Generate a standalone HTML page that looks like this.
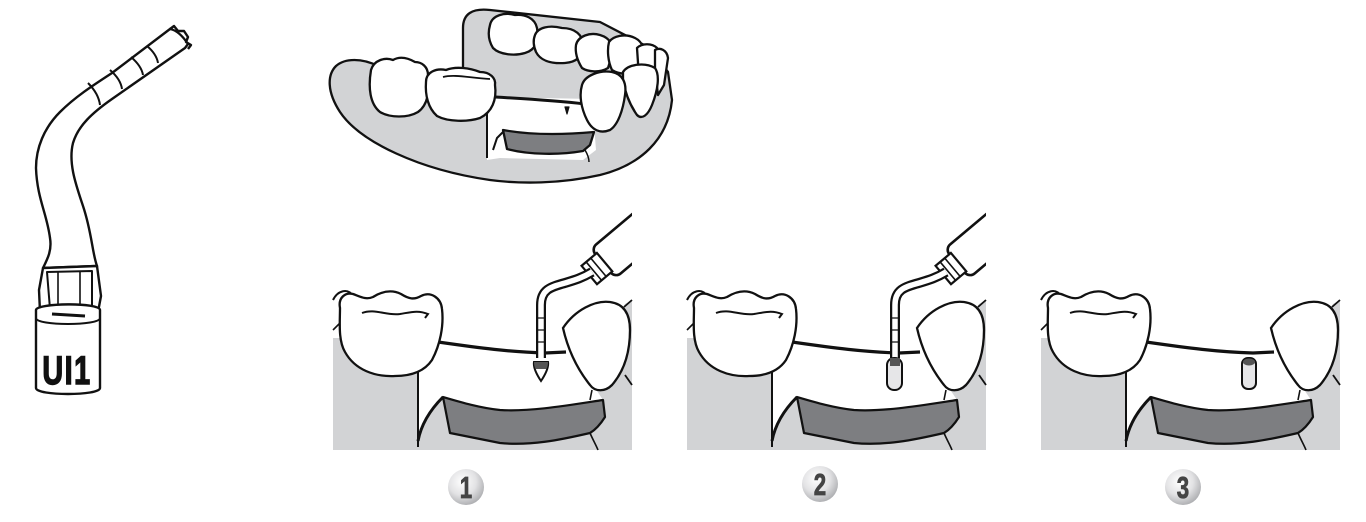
<!DOCTYPE html>
<html><head><meta charset="utf-8">
<style>
html,body{margin:0;padding:0;background:#fff;width:1366px;height:522px;overflow:hidden}
svg{display:block}
</style></head>
<body>
<svg width="1366" height="522" viewBox="0 0 1366 522" xmlns="http://www.w3.org/2000/svg">
<defs>
  <radialGradient id="ball" cx="40%" cy="35%" r="70%">
    <stop offset="0" stop-color="#ffffff"/>
    <stop offset="0.55" stop-color="#e2e2e4"/>
    <stop offset="1" stop-color="#a9aaad"/>
  </radialGradient>
  <clipPath id="pclip"><rect x="333" y="200" width="299" height="250"/></clipPath>

  <g id="base">
    <path d="M333,338 L418,338 L418,442 L425,420 L435,405 L443,397 C460,402 480,408 500,410 C530,412 570,405 603,400 L595,388 L600,340 L625,304 L632,300 L632,450 L333,450 Z" fill="#d2d3d5"/>
    <path d="M443,397 C460,402 480,408 500,410 C530,412 570,405 603,400 L605,417 C600,425 595,430 590,433 C560,440 530,446 500,443 L450,433 Z" fill="#7d7e81" stroke="#111" stroke-width="2.2" stroke-linejoin="round"/>
    <path d="M418,372 L418,447" stroke="#111" stroke-width="2" fill="none"/>
    <path d="M418,441 C421,425 430,410 443,397" stroke="#111" stroke-width="3" fill="none"/>
    <path d="M590,433 C593,440 596,445 598,450" stroke="#111" stroke-width="1.6" fill="none"/>
    <path d="M592,390 L590,400" stroke="#111" stroke-width="1.6" fill="none"/>
    <path d="M333,330 L341,322" stroke="#111" stroke-width="1.6" fill="none"/>
    <path d="M438,342 C480,348 510,352 545,353 L566,352" stroke="#111" stroke-width="3.2" fill="none"/>
    <path d="M333,300 C338,290 348,288 353,296" stroke="#111" stroke-width="2" fill="none"/>
    <path d="M340,308 C338,298 345,292 353,294 C361,297 366,300 373,297 C381,292 391,289 401,294 C409,299 414,300 421,296 C431,291 441,298 442,309 C444,326 440,345 432,360 C424,372 410,376 395,376 C375,377 355,370 345,352 C338,340 340,322 340,308 Z" fill="#fff" stroke="#111" stroke-width="2.3"/>
    <path d="M362,313 C375,308 386,316 400,314 C412,312 418,310 428,314 L425,318" stroke="#111" stroke-width="2" fill="none"/>
    <path d="M563,328 C575,310 595,300 610,302 C625,304 630,315 630,330 C630,350 625,370 612,385 C605,392 595,392 590,385 C578,370 568,350 563,328 Z" fill="#fff" stroke="#111" stroke-width="2.3"/>
    <path d="M624,307 L632,300 M625,375 L632,385" stroke="#111" stroke-width="1.8" fill="none"/>
  </g>

  <g id="tool">
    <g transform="translate(600,266) rotate(-40)">
      <rect x="4" y="-19" width="90" height="38" rx="7" fill="#fff" stroke="#111" stroke-width="2.6"/>
      <rect x="-14" y="-12" width="20" height="24" fill="#fff" stroke="#111" stroke-width="2.2"/>
      <line x1="-8" y1="-12" x2="-8" y2="12" stroke="#111" stroke-width="1.6"/>
      <line x1="-2" y1="-12" x2="-2" y2="12" stroke="#111" stroke-width="1.6"/>
    </g>
    <path d="M541,358 L541,305 C541,290 550,287 565,283 C575,280 582,278 592,272" stroke="#111" stroke-width="10" fill="none" stroke-linejoin="round"/>
    <path d="M541,358 L541,305 C541,290 550,287 565,283 C575,280 582,278 592,272" stroke="#fff" stroke-width="5.5" fill="none"/>
    <path d="M537,318 h8 M537,330 h8 M537,342 h8" stroke="#111" stroke-width="1.2"/>
  </g>
</defs>

<!-- UI1 instrument -->
<g stroke="#111" stroke-width="2.4" fill="#fff" stroke-linejoin="round">
  <path d="M170,29 C176,30 182,35 188,44 L185,48 L112,99 C92,113 78,126 73,143 C68,163 76,185 83,206 C92,233 92,252 97,266 L43,268 C48,258 52,250 50,238 C47,214 37,198 36,168 C36,148 44,128 60,112 C75,97 92,86 112,73 Z"/>
  <path d="M170,29 L174,26 L178,31 L184,31 L188,37 L186,42 L191,45 L188,49" fill="none"/>
  <path d="M88,83 C95,90 99,97 100,105" fill="none" stroke-width="2"/>
  <path d="M110,70 C117,76 121,82 122,89" fill="none" stroke-width="2"/>
  <path d="M131,57 C138,63 142,69 143,75" fill="none" stroke-width="2"/>
  <path d="M147,46 C153,51 157,57 158,63" fill="none" stroke-width="2"/>
  <path d="M43,268 L97,266 L101,296 L98,312 L40,312 L39,290 Z"/>
  <path d="M47,272 L92,271 L92,309 L50,309 Z" fill="none" stroke-width="2"/>
  <path d="M58,272 L58,309 M80,271 L80,309" stroke-width="1.6" fill="none"/>
  <path d="M36,310 C36,303 100,302 100,310 L100,388 C100,396 36,396 36,388 Z"/>
  <path d="M36,318 C36,326 100,326 100,318" fill="none" stroke-width="2"/>
  <path d="M52,314 L85,316" stroke-width="3" fill="none"/>
</g>
<text x="67" y="384" text-anchor="middle" font-family="'Liberation Sans', sans-serif" font-weight="bold" font-size="40" fill="#111" stroke="#111" stroke-width="1.5" transform="translate(67,0) scale(0.72,1) translate(-67,0)" letter-spacing="2">UI1</text>

<!-- Jaw -->
<g stroke="#111" stroke-width="2.3" stroke-linejoin="round">
  <path d="M336,66 C345,58 362,58 378,66 L463,80 L463,28 C463,14 472,8 490,10 L600,22 L650,48 L668,72 L672,100 C668,140 640,165 600,175 C560,184 520,184 490,180 C420,170 360,142 340,112 C327,92 327,75 336,66 Z" fill="#d2d3d5"/>
  <path d="M487,97 L592,99 L596,150 L583,160 L500,158 L487,160 Z" fill="#fff" stroke="none"/>
  <path d="M487,97 L487,158 M505,130 L497,138 L493,150" fill="none" stroke-width="2"/>
  <path d="M503,130 C530,135 560,135 594,132 L590,145 L583,151 C560,155 530,155 507,149 Z" fill="#7d7e81"/>
  <path d="M495,97 C530,99 560,101 585,104" fill="none" stroke-width="3"/>
  <path d="M565,107 L569,107 L567,114 Z" fill="#111" stroke-width="1.2"/>
  <path d="M585,150 C588,155 589,158 589,162" fill="none" stroke-width="1.5"/>
  <path d="M490,25 C492,15 505,12 515,15 C525,14 535,18 537,28 C539,40 536,50 525,53 C515,56 500,55 493,48 C488,40 488,32 490,25 Z" fill="#fff"/>
  <path d="M535,35 C538,27 550,25 562,28 C575,28 583,35 583,45 C583,55 578,62 565,63 C550,64 540,60 536,52 C533,45 533,40 535,35 Z" fill="#fff"/>
  <path d="M576,45 C578,36 590,32 600,35 C610,38 614,45 612,55 L608,68 C600,73 588,72 582,68 C577,60 575,52 576,45 Z" fill="#fff"/>
  <path d="M609,42 C613,36 625,33 635,38 C643,42 645,50 642,60 L636,72 C628,75 618,74 612,70 C608,62 607,50 609,42 Z" fill="#fff"/>
  <path d="M637,48 C642,43 652,43 657,48 L660,58 L650,95 L645,100 L640,92 Z" fill="#fff"/>
  <path d="M655,50 C660,47 667,50 668,58 L664,85 L658,95 L655,70 Z" fill="#fff"/>
  <path d="M623,72 C628,64 645,62 655,68 C660,75 658,90 652,105 C648,115 642,120 637,115 C630,105 625,92 623,80 Z" fill="#fff"/>
  <path d="M582,85 C585,75 600,70 612,72 C622,74 627,82 625,95 C623,110 618,125 610,130 C600,134 592,130 587,120 C581,108 579,95 582,85 Z" fill="#fff"/>
  <path d="M371,70 C374,60 385,57 393,60 C400,56 408,58 415,62 C422,62 428,67 428,75 C430,90 428,105 418,112 C408,118 390,118 380,112 C370,104 368,88 371,70 Z" fill="#fff"/>
  <path d="M426,82 C426,72 436,68 446,70 C456,66 470,68 480,72 C490,72 496,78 495,85 C497,100 492,112 480,118 C468,122 448,122 437,116 C428,108 425,95 426,82 Z" fill="#fff"/>
  <path d="M443,77 C455,74 470,78 490,79" fill="none" stroke-width="1.8"/>
</g>

<!-- Panels -->
<g>
  <use href="#base"/>
  <g clip-path="url(#pclip)"><use href="#tool"/></g>
  <path d="M534,362 L548,362 C549,368 545,375 541,381 C537,375 533,368 534,362 Z" fill="#fff" stroke="#111" stroke-width="2"/>
  <path d="M534,362 L548,362 C548,366 547,368 546,369 L536,369 C535,368 534,366 534,362 Z" fill="#555"/>
</g>
<g transform="translate(354,0)">
  <use href="#base"/>
  <g clip-path="url(#pclip)"><use href="#tool"/></g>
  <rect x="533" y="358" width="15" height="32" rx="7" fill="#e6e6e8" stroke="#111" stroke-width="2"/>
  <rect x="536" y="358" width="10" height="8" fill="#555"/>
</g>
<g transform="translate(708,0)">
  <use href="#base"/>
  <rect x="534" y="358" width="14" height="31" rx="6" fill="#e6e6e8" stroke="#111" stroke-width="2"/>
  <ellipse cx="541" cy="362" rx="6" ry="3.5" fill="#555"/>
</g>

<!-- Number balls -->
<g font-family="'Liberation Sans', sans-serif" font-weight="bold" font-size="31" fill="#444" stroke="#444" stroke-width="0.8" text-anchor="middle">
  <circle cx="466" cy="487" r="18" fill="url(#ball)" stroke="none"/>
  <text x="466" y="498" transform="translate(466,0) scale(0.72,1) translate(-466,0)">1</text>
  <circle cx="820" cy="484" r="18" fill="url(#ball)" stroke="none"/>
  <text x="820" y="495" transform="translate(820,0) scale(0.72,1) translate(-820,0)">2</text>
  <circle cx="1183" cy="487" r="18" fill="url(#ball)" stroke="none"/>
  <text x="1183" y="498" transform="translate(1183,0) scale(0.72,1) translate(-1183,0)">3</text>
</g>
</svg>
</body></html>
